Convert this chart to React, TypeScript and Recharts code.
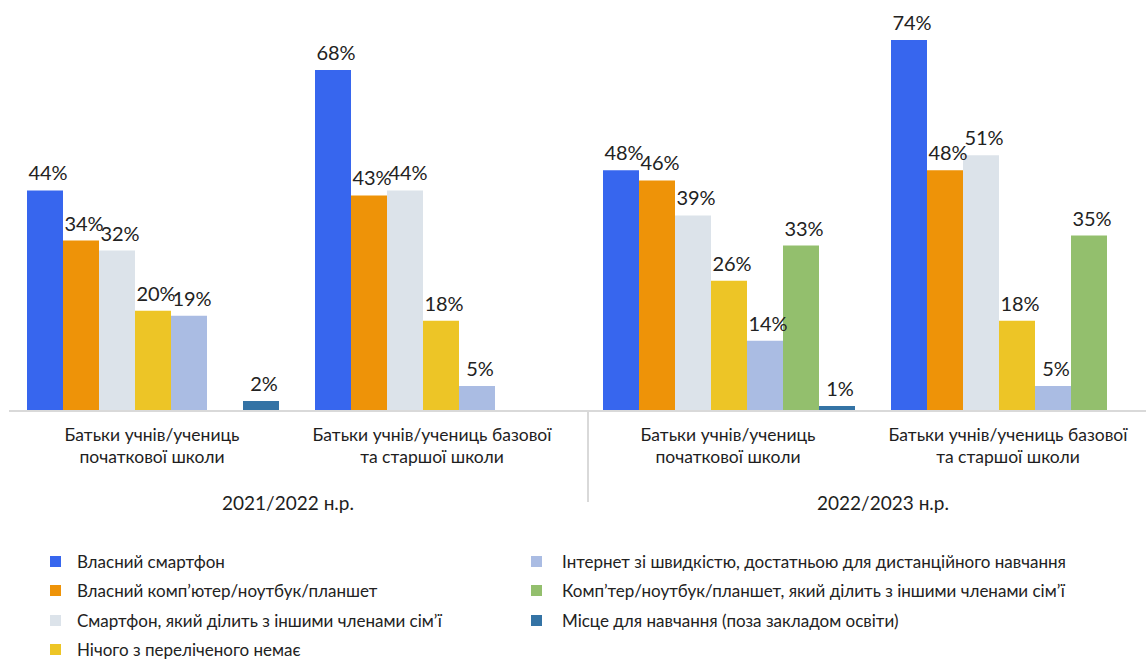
import React from 'react';
import { BarChart, Bar, XAxis, YAxis, LabelList, Legend } from 'recharts';

// group labels (two lines each) and school years
const groupLines = [
  ['Батьки учнів/учениць', 'початкової школи'],
  ['Батьки учнів/учениць базової', 'та старшої школи'],
  ['Батьки учнів/учениць', 'початкової школи'],
  ['Батьки учнів/учениць базової', 'та старшої школи'],
];
const schoolYears = ['2021/2022 н.р.', '2021/2022 н.р.', '2022/2023 н.р.', '2022/2023 н.р.'];

// values in %, null = no bar
const ownSmartphone = [44, 68, 48, 74];
const ownComputer = [34, 43, 46, 48];
const sharedSmartphone = [32, 44, 39, 51];
const nothingListed = [20, 18, 26, 18];
const fastInternet = [19, 5, 14, 5];
const sharedComputer = [null, null, 33, 35];
const studyPlace = [2, null, 1, null];

const seriesNames = [
  'Власний смартфон',
  'Власний комп’ютер/ноутбук/планшет',
  'Смартфон, який ділить з іншими членами сім’ї',
  'Нічого з переліченого немає',
  'Інтернет зі швидкістю, достатньою для дистанційного навчання',
  'Комп’тер/ноутбук/планшет, який ділить з іншими членами сім’ї',
  'Місце для навчання (поза закладом освіти)',
];
const seriesColors = ['#3766EE', '#EE9308', '#DCE3EA', '#EDC526', '#AABCE3', '#93BF6D', '#3473A5'];
const seriesValues = [ownSmartphone, ownComputer, sharedSmartphone, nothingListed, fastInternet, sharedComputer, studyPlace];

const data = groupLines.map((_, i) => {
  const row: Record<string, any> = { group: 'g' + i, year: schoolYears[i] };
  seriesValues.forEach((vals, s) => { row['s' + s] = vals[i]; });
  return row;
});

const GroupTick = (props: any) => {
  const { x, y, index } = props;
  const lines = groupLines[index] || [];
  // the longer two-line labels sit a little left of the band centre
  const shift = index % 2 === 1 ? -9 : -1;
  return (
    <text x={x + shift} y={y} textAnchor="middle" fill="#1e1e1e" fontSize={17.5}>
      {lines.map((l, i) => (
        <tspan key={i} x={x + shift} dy={i === 0 ? 22 : 21.5}>{l}</tspan>
      ))}
    </text>
  );
};

const YearTick = (props: any) => {
  const { x, y, index, payload } = props;
  return (
    <g>
      {index === 1 && (
        <line x1={x - 285} x2={x - 285} y1={y - 73} y2={y + 18} stroke="#d9d9d9" strokeWidth={2} />
      )}
      <text x={x} y={y} dy={26} dx={index === 0 ? -9 : 10} textAnchor="middle" fill="#1e1e1e" fontSize={19}>
        {payload.value}
      </text>
    </g>
  );
};

const LegendBox = () => (
  <div style={{ position: 'relative', height: 125, width: 1146, fontSize: 17, color: '#222' }}>
    {seriesNames.map((name, i) => {
      const col = i < 4 ? 0 : 1;
      const row = col === 0 ? i : i - 4;
      return (
        <div
          key={name}
          style={{
            position: 'absolute',
            left: col ? 531 : 50,
            top: 16 + row * 29.6,
            height: 22,
            display: 'flex',
            alignItems: 'center',
            whiteSpace: 'nowrap',
          }}
        >
          <span style={{ display: 'inline-block', width: 11, height: 11, background: seriesColors[i], marginRight: col ? 20 : 16 }} />
          <span>{name}</span>
        </div>
      );
    })}
  </div>
);

export default function App() {
  return (
    <div
      style={{
        position: 'absolute',
        left: 0,
        top: 0,
        width: 1146,
        height: 659,
        overflow: 'hidden',
        background: '#fff',
        fontFamily: 'Lato, sans-serif',
      }}
    >
      <BarChart
        width={1170}
        height={659}
        data={data}
        margin={{ top: 40, right: 9, left: 9, bottom: 0 }}
        barCategoryGap={18}
        barGap={0}
      >
        <YAxis hide domain={[0, 74]} />
        <XAxis
          dataKey="group"
          height={65}
          axisLine={{ stroke: '#d9d9d9', strokeWidth: 2 }}
          tickLine={false}
          tick={<GroupTick />}
          interval={0}
        />
        <XAxis
          xAxisId="year"
          dataKey="year"
          allowDuplicatedCategory={false}
          height={58}
          axisLine={false}
          tickLine={false}
          tick={<YearTick />}
          interval={0}
        />
        <Legend
          verticalAlign="bottom"
          content={<LegendBox />}
          wrapperStyle={{ left: 0, width: 1146 }}
        />
        {seriesNames.map((name, s) => (
          <Bar key={name} dataKey={'s' + s} name={name} fill={seriesColors[s]} isAnimationActive={false}>
            <LabelList
              dataKey={'s' + s}
              position="top"
              offset={10}
              dx={3}
              fill="#222"
              fontSize={20}
              formatter={(v: any) => (v == null ? '' : `${v}%`)}
            />
          </Bar>
        ))}
      </BarChart>
    </div>
  );
}
